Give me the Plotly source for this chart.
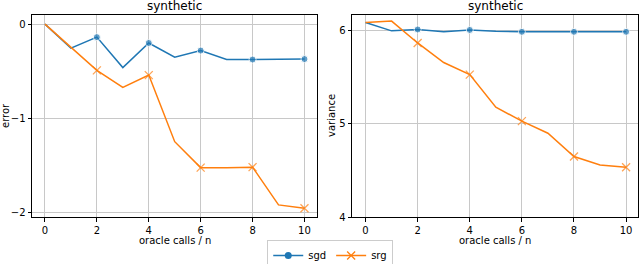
import plotly.graph_objects as go

calls = [0, 1, 2, 3, 4, 5, 6, 7, 8, 9, 10]
x_ticks = [0, 2, 4, 6, 8, 10]

err_sgd = [0.0, -0.255, -0.138, -0.46, -0.20, -0.35, -0.28, -0.375, -0.375, -0.375, -0.37]
err_srg = [0.0, -0.24, -0.49, -0.67, -0.54, -1.245, -1.52, -1.52, -1.515, -1.915, -1.95]
var_sgd = [6.09, 6.0, 6.015, 5.99, 6.01, 5.995, 5.99, 5.99, 5.99, 5.99, 5.99]
var_srg = [6.09, 6.105, 5.87, 5.66, 5.53, 5.18, 5.03, 4.9, 4.65, 4.56, 4.535]

left_yticks = [0, -1, -2]
right_yticks = [4, 5, 6]

C_SGD = "#1f77b4"
C_SRG = "#ff7f0e"
FONT = "DejaVu Sans"


def marker_sizes(xs, size):
    return [size if (x % 2 == 0 and x > 0) else 0 for x in xs]


sgd_marker = dict(symbol="circle", size=7, color=C_SGD)
srg_marker = dict(symbol="x-thin", size=8, color=C_SRG, line=dict(color=C_SRG, width=1.3))

fig = go.Figure()

for xa, ya, ysgd, ysrg in [("x", "y", err_sgd, err_srg), ("x2", "y2", var_sgd, var_srg)]:
    fig.add_trace(go.Scatter(
        x=calls, y=ysgd, mode="lines+markers", name="sgd",
        line=dict(color=C_SGD, width=1.5),
        marker={**sgd_marker, "size": marker_sizes(calls, 7)},
        xaxis=xa, yaxis=ya, showlegend=False))
    fig.add_trace(go.Scatter(
        x=calls, y=ysrg, mode="lines+markers", name="srg",
        line=dict(color=C_SRG, width=1.5),
        marker={**srg_marker, "size": marker_sizes(calls, 8)},
        xaxis=xa, yaxis=ya, showlegend=False))

# legend entries
fig.add_trace(go.Scatter(x=[None], y=[None], mode="lines+markers", name="sgd",
                         line=dict(color=C_SGD, width=1.5), marker=sgd_marker))
fig.add_trace(go.Scatter(x=[None], y=[None], mode="lines+markers", name="srg",
                         line=dict(color=C_SRG, width=1.5), marker=srg_marker))

axis_common = dict(
    showline=True, linecolor="black", linewidth=1, mirror=True,
    ticks="outside", ticklen=3.5, tickwidth=0.8, tickcolor="black",
    showgrid=True, gridcolor="#c8c8c8", gridwidth=0.8, automargin=False,
    zeroline=False, tickfont=dict(family=FONT, size=10, color="black"),
)

fig.update_layout(
    template="none",
    width=640, height=264,
    margin=dict(l=0, r=0, t=0, b=0, autoexpand=False),
    paper_bgcolor="white", plot_bgcolor="white",
    font=dict(family=FONT, size=10, color="black"),
    xaxis=dict(domain=[0.05, 0.496], range=[-0.5, 10.5], tickvals=x_ticks, **axis_common),
    yaxis=dict(domain=[0.178, 0.943], range=[-2.043, 0.096], tickvals=left_yticks,
               anchor="x", **axis_common),
    xaxis2=dict(domain=[0.55, 0.997], range=[-0.52, 10.46], tickvals=x_ticks,
                anchor="y2", **axis_common),
    yaxis2=dict(domain=[0.178, 0.943], range=[4.0, 6.17], tickvals=right_yticks,
                anchor="x2", **axis_common),
    legend=dict(orientation="h", x=0.516, xanchor="center", y=1 - 240 / 264, yanchor="top",
                bordercolor="#cccccc", borderwidth=1, bgcolor="white",
                tracegroupgap=0, font=dict(family=FONT, size=10)),
    annotations=[
        dict(text="synthetic", x=0.273, y=1 - 6 / 264, xref="paper", yref="paper",
             showarrow=False, font=dict(size=12), xanchor="center", yanchor="middle"),
        dict(text="synthetic", x=0.7735, y=1 - 6 / 264, xref="paper", yref="paper",
             showarrow=False, font=dict(size=12), xanchor="center", yanchor="middle"),
        dict(text="oracle calls / n", x=0.273, y=1 - 240 / 264, xref="paper", yref="paper",
             showarrow=False, font=dict(size=10), xanchor="center", yanchor="middle"),
        dict(text="oracle calls / n", x=0.7735, y=1 - 240 / 264, xref="paper", yref="paper",
             showarrow=False, font=dict(size=10), xanchor="center", yanchor="middle"),
        dict(text="error", x=5 / 640, y=1 - 116 / 264, xref="paper", yref="paper",
             showarrow=False, font=dict(size=10), textangle=-90, xanchor="center", yanchor="middle"),
        dict(text="variance", x=331 / 640, y=1 - 116 / 264, xref="paper", yref="paper",
             showarrow=False, font=dict(size=10), textangle=-90, xanchor="center", yanchor="middle"),
    ],
)

fig.write_html("out.html", config={"displayModeBar": False},
               post_script="document.body.style.margin='0';document.body.style.overflow='hidden';")
